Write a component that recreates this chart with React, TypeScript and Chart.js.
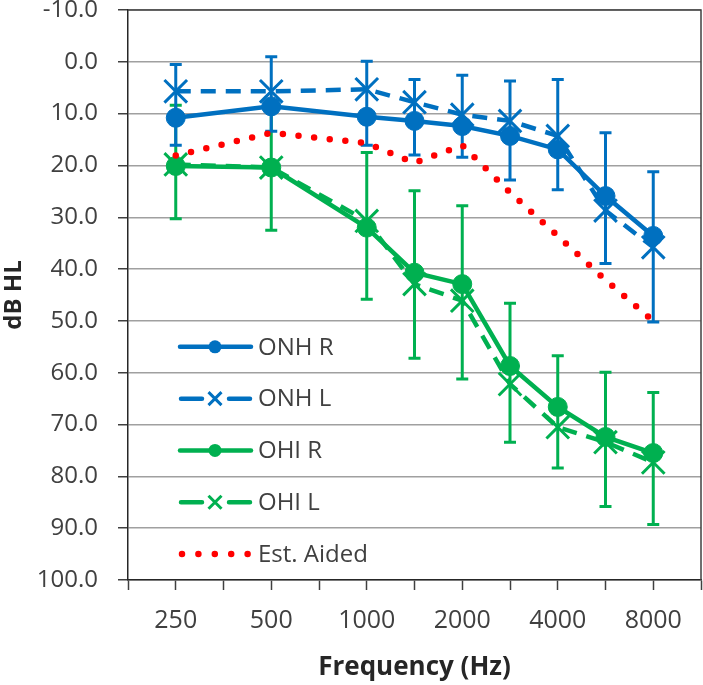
import React, { useEffect, useRef } from "react";
import { Chart, registerables } from "chart.js";

Chart.register(...registerables);

// Frequencies (Hz) and their half-octave slot on the category-like axis
const frequencies = ["250", "500", "1000", "1500", "2000", "3000", "4000", "6000", "8000"];
const slots = [1, 3, 5, 6, 7, 8, 9, 10, 11];
const tickLabelSlots = [1, 3, 5, 7, 9, 11];
const tickLabels = ["250", "500", "1000", "2000", "4000", "8000"];

// Thresholds (dB HL)
const onhR = [10.8, 8.6, 10.6, 11.4, 12.4, 14.3, 16.9, 25.9, 33.6];
const onhL = [5.7, 5.7, 5.3, 7.8, 10.2, 11.4, 14.3, 28.7, 35.8];
const ohiR = [20.1, 20.4, 32.0, 40.7, 42.9, 58.7, 66.6, 72.4, 75.5];
const ohiL = [19.8, 20.4, 30.7, 42.9, 46.1, 62.2, 70.5, 73.4, 77.3];
const estAided = [18.1, 13.7, 15.7, 19.5, 16.1, 25.2, 33.6, 42.1, 50.0];

// Error bar ends (dB HL)
const onhErrTop = [0.5, -1.0, -0.1, 3.4, 2.6, 3.7, 3.4, 13.7, 21.2];
const onhErrBottom = [16.1, 13.4, 16.1, 18.0, 18.4, 22.8, 24.7, 38.9, 50.2];
const ohiErrTop = [8.4, 8.5, 17.5, 24.9, 27.8, 46.6, 56.7, 59.9, 63.8];
const ohiErrBottom = [30.3, 32.5, 45.8, 57.2, 61.2, 73.4, 78.4, 85.8, 89.3];

const BLUE = "#0070C0";
const GREEN = "#00B050";
const RED = "#FF0000";
const FONT = "'Open Sans', sans-serif";
const TEXT = "#404040";

const toPoints = (vals: number[]) => vals.map((v, i) => ({ x: slots[i], y: v }));

const errorBarPlugin = {
  id: "errorBars",
  beforeDatasetsDraw(chart: any) {
    const { ctx, scales } = chart;
    const xs = scales.x;
    const ys = scales.y;
    const groups = [
      { color: GREEN, top: ohiErrTop, bottom: ohiErrBottom },
      { color: BLUE, top: onhErrTop, bottom: onhErrBottom },
    ];
    ctx.save();
    ctx.lineWidth = 3;
    ctx.lineCap = "butt";
    for (const g of groups) {
      ctx.strokeStyle = g.color;
      frequencies.forEach((_, i) => {
        const x = xs.getPixelForValue(slots[i]);
        const y1 = ys.getPixelForValue(g.top[i]);
        const y2 = ys.getPixelForValue(g.bottom[i]);
        ctx.beginPath();
        ctx.moveTo(x, y1);
        ctx.lineTo(x, y2);
        ctx.moveTo(x - 6, y1);
        ctx.lineTo(x + 6, y1);
        ctx.moveTo(x - 6, y2);
        ctx.lineTo(x + 6, y2);
        ctx.stroke();
      });
    }
    ctx.restore();
  },
};

const framePlugin = {
  id: "frame",
  afterDraw(chart: any) {
    const { ctx, chartArea } = chart;
    ctx.save();
    ctx.strokeStyle = "#404040";
    ctx.lineWidth = 1.5;
    ctx.beginPath();
    ctx.moveTo(chartArea.left, chartArea.top);
    ctx.lineTo(chartArea.right, chartArea.top);
    ctx.lineTo(chartArea.right, chartArea.bottom);
    ctx.stroke();
    ctx.restore();
  },
};

const legendPlugin = {
  id: "insideLegend",
  afterDraw(chart: any) {
    const { ctx, chartArea, scales } = chart;
    const ys = scales.y;
    const x0 = chartArea.left + 52;
    const x1 = chartArea.left + 123;
    const xm = chartArea.left + 87;
    const xt = chartArea.left + 130;
    ctx.save();
    chart.data.datasets.forEach((ds: any, i: number) => {
      const y = ys.getPixelForValue(55 + i * 10);
      ctx.strokeStyle = ds.borderColor;
      ctx.fillStyle = ds.borderColor;
      if (ds.legendKind === "dotted") {
        ctx.lineWidth = 6.5;
        ctx.lineCap = "round";
        ctx.setLineDash([0, 16.4]);
        ctx.beginPath();
        ctx.moveTo(x0 + 2, y);
        ctx.lineTo(x1, y);
        ctx.stroke();
        ctx.setLineDash([]);
      } else if (ds.legendKind === "dashed") {
        ctx.lineWidth = 4.5;
        ctx.lineCap = "round";
        ctx.beginPath();
        ctx.moveTo(x0 + 1, y);
        ctx.lineTo(x0 + 22, y);
        ctx.moveTo(x1 - 22, y);
        ctx.lineTo(x1 - 1, y);
        ctx.stroke();
        ctx.lineWidth = 3;
        ctx.lineCap = "butt";
        const r = 6.5;
        ctx.beginPath();
        ctx.moveTo(xm - r, y - r);
        ctx.lineTo(xm + r, y + r);
        ctx.moveTo(xm - r, y + r);
        ctx.lineTo(xm + r, y - r);
        ctx.stroke();
      } else {
        ctx.lineWidth = 4.5;
        ctx.lineCap = "round";
        ctx.beginPath();
        ctx.moveTo(x0, y);
        ctx.lineTo(x1, y);
        ctx.stroke();
        ctx.beginPath();
        ctx.arc(xm, y, 6.5, 0, Math.PI * 2);
        ctx.fill();
      }
      ctx.fillStyle = TEXT;
      ctx.font = `24px ${FONT}`;
      ctx.textAlign = "left";
      ctx.textBaseline = "middle";
      ctx.fillText(ds.label, xt, y + 1);
    });
    ctx.restore();
  },
};

export default function App() {
  const canvasRef = useRef<HTMLCanvasElement | null>(null);

  useEffect(() => {
    const canvas = canvasRef.current;
    if (!canvas) return;
    const chart = new Chart(canvas, {
      type: "line",
      data: {
        datasets: [
          {
            label: "ONH R",
            data: toPoints(onhR),
            borderColor: BLUE,
            backgroundColor: BLUE,
            borderWidth: 4.5,
            pointStyle: "circle",
            pointRadius: 9.5,
            pointBorderWidth: 1,
            pointBackgroundColor: BLUE,
            pointBorderColor: BLUE,
            order: 1,
            legendKind: "solid",
          } as any,
          {
            label: "ONH L",
            data: toPoints(onhL),
            borderColor: BLUE,
            backgroundColor: BLUE,
            borderWidth: 4.5,
            borderDash: [15, 10],
            pointStyle: "crossRot",
            pointRadius: 16,
            pointBorderWidth: 3,
            pointBorderColor: BLUE,
            order: 2,
            legendKind: "dashed",
          } as any,
          {
            label: "OHI R",
            data: toPoints(ohiR),
            borderColor: GREEN,
            backgroundColor: GREEN,
            borderWidth: 4.5,
            pointStyle: "circle",
            pointRadius: 9.5,
            pointBorderWidth: 1,
            pointBackgroundColor: GREEN,
            pointBorderColor: GREEN,
            order: 3,
            legendKind: "solid",
          } as any,
          {
            label: "OHI L",
            data: toPoints(ohiL),
            borderColor: GREEN,
            backgroundColor: GREEN,
            borderWidth: 4.5,
            borderDash: [15, 10],
            pointStyle: "crossRot",
            pointRadius: 16,
            pointBorderWidth: 3,
            pointBorderColor: GREEN,
            order: 4,
            legendKind: "dashed",
          } as any,
          {
            label: "Est. Aided",
            data: toPoints(estAided),
            borderColor: RED,
            backgroundColor: RED,
            borderWidth: 6.5,
            borderDash: [0, 15.7],
            borderCapStyle: "round",
            pointRadius: 0,
            order: 0,
            legendKind: "dotted",
          } as any,
        ],
      },
      options: {
        responsive: false,
        animation: false,
        events: [],
        layout: { autoPadding: false, padding: { top: 10, right: 2, left: 0, bottom: 0 } },
        plugins: { legend: { display: false }, tooltip: { enabled: false } },
        scales: {
          x: {
            type: "linear",
            min: 0,
            max: 12,
            ticks: {
              stepSize: 1,
              autoSkip: false,
              maxRotation: 0,
              padding: 16,
              color: TEXT,
              font: { family: FONT, size: 25 },
              callback: (v: any) => {
                const k = tickLabelSlots.indexOf(Number(v));
                return k >= 0 ? tickLabels[k] : "";
              },
            },
            grid: {
              drawOnChartArea: false,
              tickLength: 10,
              tickColor: "#404040",
              tickWidth: 1.5,
            },
            border: { color: "#262626", width: 1.5 },
            title: {
              display: true,
              text: "Frequency (Hz)",
              color: "#262626",
              font: { family: FONT, size: 26, weight: "bold" },
              padding: { top: 0, bottom: 2 },
            },
            afterFit: (s: any) => {
              s.height = 105;
              s.paddingLeft = 0;
              s.paddingRight = 0;
              s.paddingTop = 0;
              s.paddingBottom = 0;
            },
          },
          y: {
            type: "linear",
            reverse: true,
            min: -10,
            max: 100,
            ticks: {
              stepSize: 10,
              padding: 20,
              color: TEXT,
              font: { family: FONT, size: 24 },
              callback: (v: any) => Number(v).toFixed(1),
            },
            grid: {
              color: "#A0A0A0",
              lineWidth: 1.5,
              tickLength: 10,
              tickColor: "#404040",
              tickWidth: 1.5,
            },
            border: { color: "#262626", width: 1.5 },
            title: {
              display: true,
              text: "dB HL",
              color: "#262626",
              font: { family: FONT, size: 24, weight: "bold" },
              padding: { top: 0, bottom: 0 },
            },
            afterFit: (s: any) => {
              s.width = 128;
              s.paddingLeft = 0;
              s.paddingRight = 0;
              s.paddingTop = 0;
              s.paddingBottom = 0;
            },
          },
        },
      },
      plugins: [errorBarPlugin, legendPlugin, framePlugin],
    } as any);
    return () => chart.destroy();
  }, []);

  return (
    <div style={{ position: "fixed", left: 0, top: 0, width: 703, height: 685, background: "#ffffff" }}>
      <canvas ref={canvasRef} width={703} height={685} style={{ display: "block" }} />
    </div>
  );
}
